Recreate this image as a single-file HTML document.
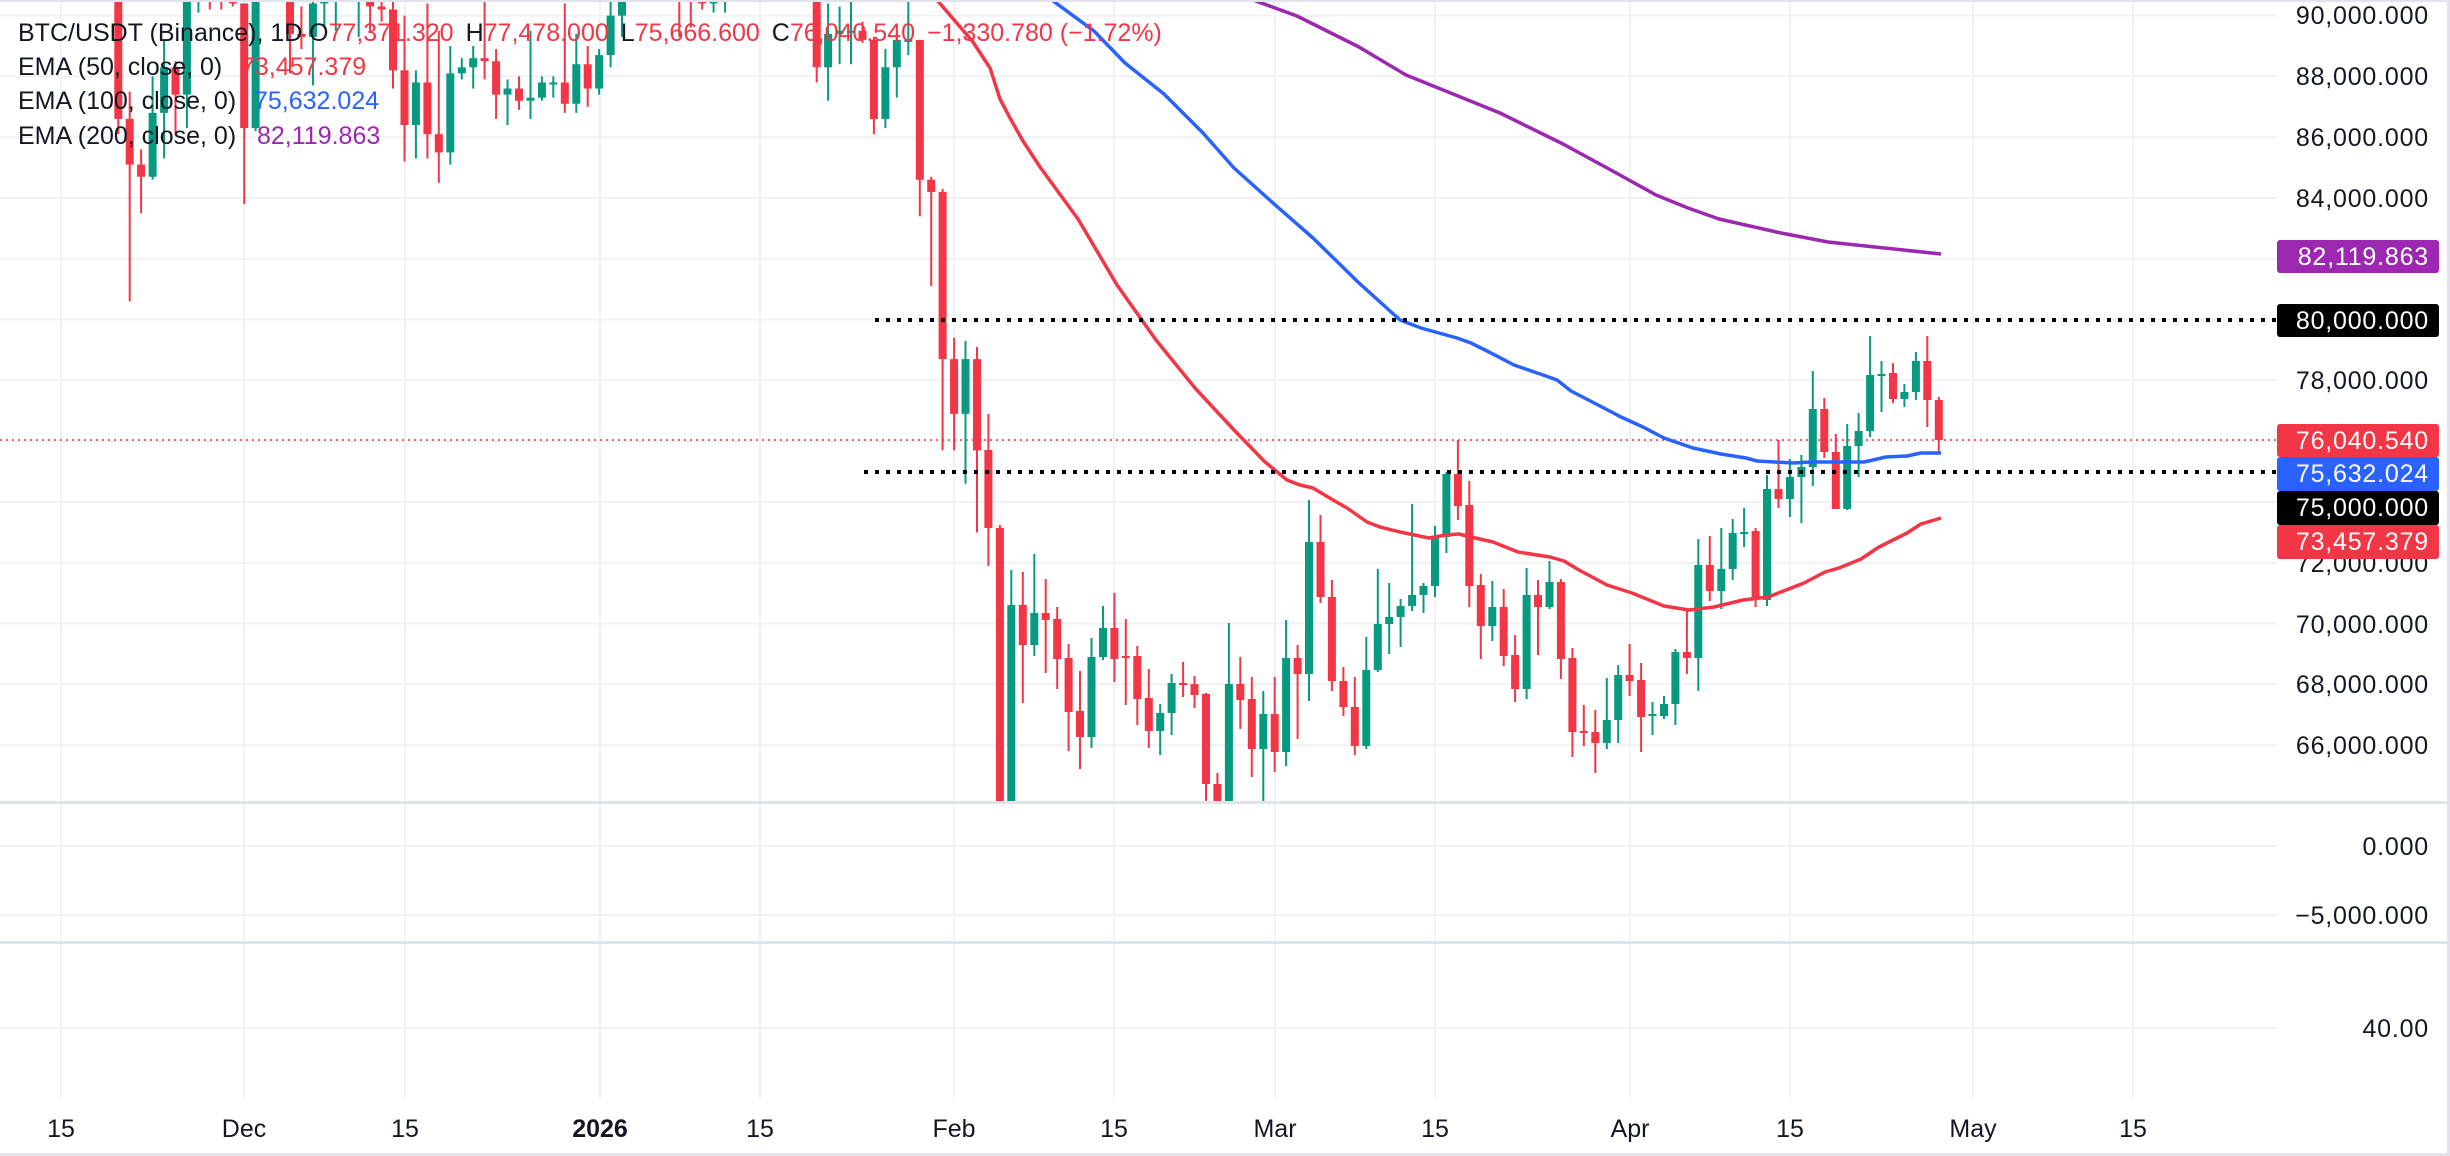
<!DOCTYPE html>
<html><head><meta charset="utf-8"><style>
html,body{margin:0;padding:0;background:#fff;}
svg{display:block;font-family:"Liberation Sans",sans-serif;}
</style></head><body>
<svg id="c" width="2450" height="1156" viewBox="0 0 2450 1156" xmlns="http://www.w3.org/2000/svg">
<rect width="2450" height="1156" fill="#fff"/>
<g id="grid" stroke="#f0f1f4" stroke-width="2"></g>
<defs><clipPath id="mc"><rect x="0" y="0" width="2277" height="801"/></clipPath></defs>
<g clip-path="url(#mc)">
<line x1="0" y1="440" x2="2277" y2="440" stroke="#f23645" stroke-width="1.5" stroke-dasharray="2,4"/>
<g id="candles"></g>
<polyline fill="none" stroke="#f23645" stroke-width="3.5" stroke-linejoin="round" points="930,-10 937,0 973,42 990,68 1000,99 1010,118 1023,141 1040,167 1078,219 1117,285 1156,340 1195,388 1234,430 1265,462 1287,480 1300,485 1313,488 1333,500 1347,508 1367,522 1380,527 1400,532 1429,538 1446,535 1459,534 1471,537 1493,542 1518,552 1550,557 1564,561 1579,570 1607,585 1632,593 1664,606 1689,610 1714,607 1743,600 1768,597 1804,583 1825,572 1839,568 1861,559 1879,547 1907,533 1921,524 1941,518"/>
<polyline fill="none" stroke="#2962ff" stroke-width="3.5" stroke-linejoin="round" points="1045,-5 1094,31 1125,63 1164,94 1203,133 1234,168 1273,203 1313,238 1359,283 1400,320 1421,328 1457,338 1471,343 1489,352 1514,365 1543,375 1557,380 1571,391 1600,406 1621,417 1643,427 1664,438 1693,448 1721,454 1746,458 1757,461 1793,463 1811,462 1829,462 1864,462 1886,457 1907,456 1921,453 1941,453"/>
<polyline fill="none" stroke="#9c27b0" stroke-width="3.5" stroke-linejoin="round" points="1245,-3 1297,16 1359,47 1406,75 1453,94 1500,113 1563,144 1609,169 1656,195 1688,208 1719,219 1781,233 1828,242 1875,247 1941,254"/>
<line x1="875" y1="320" x2="2277" y2="320" stroke="#000" stroke-width="4" stroke-dasharray="4,7"/>
<line x1="864" y1="472" x2="2277" y2="472" stroke="#000" stroke-width="4" stroke-dasharray="4,7"/>
</g>
<rect x="0" y="801" width="2450" height="3" fill="#e0e3eb"/>
<rect x="0" y="941" width="2450" height="3" fill="#e0e3eb"/>
<rect x="0" y="1153" width="2450" height="3" fill="#e0e3eb"/>
<rect x="2447" y="0" width="3" height="1156" fill="#e0e3eb"/>
<rect x="0" y="0" width="2450" height="2" fill="#e0e3eb"/>
<g font-size="25" fill="#131722">
<text x="18" y="41">BTC/USDT (Binance), 1D <tspan x="309">O</tspan><tspan fill="#f23645">77,371.320</tspan><tspan dx="12">H</tspan><tspan fill="#f23645">77,478.000</tspan><tspan dx="12">L</tspan><tspan fill="#f23645">75,666.600</tspan><tspan dx="12">C</tspan><tspan fill="#f23645">76,040.540</tspan><tspan dx="12" fill="#f23645">−1,330.780 (−1.72%)</tspan></text>
<text x="18" y="75">EMA (50, close, 0)<tspan x="241" fill="#f23645">73,457.379</tspan></text>
<text x="18" y="109">EMA (100, close, 0)<tspan x="254" fill="#2962ff">75,632.024</tspan></text>
<text x="18" y="144">EMA (200, close, 0)<tspan x="257" fill="#9c27b0">82,119.863</tspan></text>
</g>
<g font-size="25" fill="#131722" text-anchor="end" letter-spacing="0.8">
<text x="2429" y="24">90,000.000</text>
<text x="2429" y="85">88,000.000</text>
<text x="2429" y="146">86,000.000</text>
<text x="2429" y="207">84,000.000</text>
<text x="2429" y="389">78,000.000</text>
<text x="2429" y="572">72,000.000</text>
<text x="2429" y="633">70,000.000</text>
<text x="2429" y="693">68,000.000</text>
<text x="2429" y="754">66,000.000</text>
<text x="2429" y="855">0.000</text>
<text x="2429" y="924">−5,000.000</text>
<text x="2429" y="1037">40.00</text>
</g>
<g font-size="25" fill="#fff" text-anchor="end" letter-spacing="0.8">
<rect x="2277" y="240" width="162" height="33" rx="3" fill="#9c27b0"/><text x="2429" y="265">82,119.863</text>
<rect x="2277" y="304" width="162" height="33" rx="3" fill="#000"/><text x="2429" y="329">80,000.000</text>
<rect x="2277" y="424" width="162" height="33" rx="3" fill="#f23645"/><text x="2429" y="449">76,040.540</text>
<rect x="2277" y="457" width="162" height="34" rx="3" fill="#2962ff"/><text x="2429" y="482">75,632.024</text>
<rect x="2277" y="491" width="162" height="34" rx="3" fill="#000"/><text x="2429" y="516">75,000.000</text>
<rect x="2277" y="525" width="162" height="34" rx="3" fill="#f23645"/><text x="2429" y="550">73,457.379</text>
</g>
<g font-size="25" fill="#131722" text-anchor="middle">
<text x="61" y="1137">15</text><text x="244" y="1137">Dec</text><text x="405" y="1137">15</text>
<text x="600" y="1137" font-weight="bold">2026</text><text x="760" y="1137">15</text><text x="954" y="1137">Feb</text>
<text x="1114" y="1137">15</text><text x="1275" y="1137">Mar</text><text x="1435" y="1137">15</text>
<text x="1630" y="1137">Apr</text><text x="1790" y="1137">15</text><text x="1973" y="1137">May</text><text x="2133" y="1137">15</text>
</g>
</svg>
<script>
(function(){
var NS="http://www.w3.org/2000/svg";
var grid=document.getElementById('grid');
function ln(x1,y1,x2,y2){var l=document.createElementNS(NS,'line');l.setAttribute('x1',x1);l.setAttribute('y1',y1);l.setAttribute('x2',x2);l.setAttribute('y2',y2);grid.appendChild(l);}
[61,244,405,600,760,954,1114,1275,1435,1630,1790,1973,2133].forEach(function(x){ln(x,0,x,1098);});
for(var p=90;p>=66;p-=2){var y=15.6+(90-p)*30.4;ln(0,y,2277,y);}
[846,915,1028].forEach(function(y){ln(0,y,2277,y);});
function Y(p){return 15.6+(90-p)*30.4;}
var early=[
[91.5,93.0,86.1,86.6],[86.6,87.5,80.6,85.1],[85.1,85.6,83.5,84.7],[84.7,88.0,84.6,86.8],[86.8,89.2,85.3,88.3],[88.3,88.5,86.1,87.4],[87.4,90.6,86.3,90.5],[90.5,91.9,90.1,91.3],[91.3,93.0,90.2,90.9],[90.9,91.2,90.2,90.8],[90.8,92.0,90.3,90.4],
[90.4,90.4,83.8,86.3],[86.3,92.3,86.2,91.3],[91.3,94.1,91.0,93.4],[93.4,94.1,90.9,92.1],[92.1,92.7,88.1,89.4],[89.4,90.3,88.9,89.3],[89.3,91.7,87.7,90.4],[90.4,92.3,89.6,90.6],[90.6,94.6,89.5,92.7],[92.7,94.5,91.6,92.0],[92.0,93.5,89.3,92.5],[92.5,92.8,89.5,90.3],[90.3,90.6,89.8,90.2],[90.2,90.5,87.6,88.2],[88.2,90.0,85.2,86.4],[86.4,88.2,85.3,87.8],[87.8,90.4,85.3,86.1],[86.1,89.5,84.5,85.5],[85.5,89.0,85.1,88.1],[88.1,88.6,87.9,88.3],[88.3,89.0,87.6,88.6],[88.6,90.6,87.9,88.5],[88.5,88.9,86.6,87.4],[87.4,87.9,86.4,87.6],[87.6,88.0,86.9,87.2],[87.2,89.5,86.6,87.3],[87.3,88.0,87.2,87.8],[87.8,88.0,87.3,87.8],[87.8,90.4,86.8,87.1],[87.1,89.4,86.8,88.4],[88.4,89.0,87.0,87.6],
[87.6,88.9,87.4,88.7],[88.7,90.9,88.3,90.0],[90.0,90.7,89.3,90.6],[90.6,91.8,90.5,91.5],[91.5,94.8,91.4,93.8],[93.8,94.4,91.3,93.7],[93.7,93.7,90.6,91.2],[91.2,91.5,89.3,91.0],[91.0,92.0,89.6,90.5],[90.5,90.9,90.2,90.4],[90.4,91.2,90.1,90.9],[90.9,92.5,90.1,91.2],[91.2,96.0,90.9,95.3],[95.3,97.9,94.5,97.0],[97.0,97.2,95.0,95.6],[95.6,95.9,94.3,95.5],[95.5,95.6,95.0,95.1],[95.1,95.5,93.3,93.6],[93.6,93.6,91.9,92.6],[92.6,92.8,87.8,88.3],[88.3,90.4,87.2,89.4],[89.4,90.3,88.4,89.5],[89.5,91.2,88.4,89.5],[89.5,89.8,89.1,89.2],[89.2,89.3,86.1,86.6],[86.6,88.9,86.3,88.3],[88.3,89.4,87.3,89.2],[89.2,90.5,88.7,89.2],
[89.2,89.2,83.4,84.6],[84.6,84.7,81.1,84.2],[84.2,84.3,75.7,78.7],[78.7,79.4,75.7,76.9],[76.9,79.3,74.6,78.7],[78.7,79.1,73.0,75.7]];
var ys=[
[450,414,566,528],[528,525,880,842],[842,570,870,605],[605,572,703,645],[645,554,656,613],[613,579,673,620],[619,607,689,659],[658,644,751,712],[711,671,769,737],[737,638,748,657],[657,606,660,628],[628,593,682,659],[656,619,705,657],[656,646,725,699],[698,669,748,731],[731,704,755,713],[713,674,735,683],[683,662,697,684],[684,676,708,695],[694,693,810,784],[784,773,830,806],[806,623,830,684],[684,657,729,700],[699,677,777,749],[749,691,810,714],[714,677,772,752],[752,620,766,658],[658,645,739,674],[674,500,701,542],[542,515,603,597],[597,580,691,681],[681,667,716,707],[707,677,755,746],[746,637,749,670],[670,569,672,624],[624,583,654,617],[617,599,647,606],[606,504,611,595],[595,583,613,586],[586,526,597,537],[537,472,553,474],
[474,440,520,506],[505,481,607,586],[585,574,659,626],[626,581,641,607],[607,589,666,656],[655,635,702,689],[689,568,699,595],[595,580,655,607],[607,561,609,582],[582,579,679,659],[658,648,757,732],[731,705,746,732],[732,710,773,743],[743,678,749,720],[720,665,743,675],[675,644,696,681],[680,663,752,717],[715,702,735,714],[716,696,719,704],[704,649,725,652],[652,609,674,658],[658,539,691,565],[565,536,601,591],[591,528,609,569],[569,519,580,533],[533,508,547,532],[531,528,607,598],[600,475,606,489],[489,440,508,499],[499,459,517,477],[477,455,523,467],[467,371,486,409],[409,398,458,452],[452,434,509,509],[509,424,510,446],[446,413,477,431],[431,336,437,375],[375,361,412,374],[373,363,403,399],[399,384,407,392],[392,352,400,361],[361,336,427,400],[400,397,452,440]];
var all=[];
early.forEach(function(c){all.push([Y(c[0]),Y(c[1]),Y(c[2]),Y(c[3])]);});
ys.forEach(function(c){all.push(c);});
var g=document.getElementById('candles');var html='';
for(var i=0;i<all.length;i++){var d=5+i;var x=61+11.45*d;var c=all[i];
var up=c[3]<=c[0];var col=up?'#089981':'#f23645';
var top=Math.min(c[0],c[3]),bot=Math.max(c[0],c[3]);var h=Math.max(bot-top,2);
html+='<rect x="'+(x-1).toFixed(1)+'" y="'+c[1]+'" width="2" height="'+(c[2]-c[1])+'" fill="'+col+'"/>';
html+='<rect x="'+(x-4).toFixed(1)+'" y="'+top+'" width="8" height="'+h+'" fill="'+col+'"/>';}
g.innerHTML=html;
})();
</script>
</body></html>
